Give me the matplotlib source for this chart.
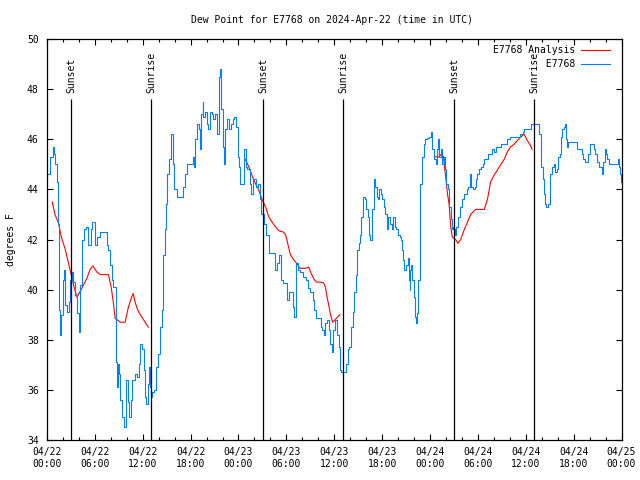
import numpy as np
import pandas as pd
import matplotlib
matplotlib.use('Agg')
import matplotlib.pyplot as plt
import matplotlib.dates as mdates

plt.rcParams['font.family'] = ['DejaVu Sans Mono']
plt.rcParams['font.size'] = 7

start = pd.Timestamp('2024-04-22 00:00')

# observed dew point (hours after start, degrees F)
obs_hours = [0.16, 0.4, 0.7, 0.85, 1.0, 1.2, 1.34, 1.4, 1.46, 1.5, 1.67, 1.75, 2.0, 2.15, 2.3, 2.5,
             2.7, 2.9, 3.1, 3.3, 3.55, 3.75, 3.97, 4.2, 4.4, 4.7, 4.95, 5.2, 5.5, 5.68, 6.05, 6.25,
             6.7, 7.3, 7.5, 7.7, 7.9, 8.1, 8.3, 8.6, 8.7, 8.8, 8.9, 9.0, 9.2, 9.4, 9.7, 9.95,
             10.1, 10.3, 10.5, 10.7, 11.0, 11.3, 11.5, 11.7, 11.9, 12.1, 12.3, 12.4, 12.6, 12.8,
             12.95, 13.0, 13.2, 13.45, 13.7, 13.95, 14.2, 14.4, 14.6, 14.75, 14.87, 15.1, 15.3, 15.5,
             15.6, 15.75, 15.9, 16.25, 16.9, 17.1, 17.35, 17.6, 17.9, 18.25, 18.4, 18.6, 18.75, 19.0,
             19.2, 19.35, 19.5, 19.6, 19.8, 20.0, 20.2, 20.4, 20.7, 20.85, 21.05, 21.3, 21.5, 21.6,
             21.72, 21.85, 22.0, 22.15, 22.3, 22.5, 22.75, 23.0, 23.3, 23.5, 23.7, 23.9, 24.05, 24.2,
             24.55, 24.75, 24.95, 25.1, 25.4, 25.55, 25.8, 26.0, 26.2, 26.5, 26.7, 26.8, 27.05, 27.2,
             27.4, 27.5, 27.8, 28.4, 28.6, 28.8, 29.1, 29.3, 29.55, 29.85, 30.06, 30.3, 30.6, 30.8,
             31.0, 31.15, 31.4, 31.7, 32.1, 32.4, 32.65, 33.0, 33.3, 33.5, 33.7, 34.15, 34.3, 34.45,
             34.66, 34.87, 35.1, 35.3, 35.5, 35.7, 35.9, 36.1, 36.3, 36.55, 36.7, 36.85, 37.4, 37.5,
             37.7, 37.9, 38.1, 38.3, 38.5, 38.7, 38.85, 39.05, 39.2, 39.35, 39.6, 39.8, 40.0, 40.2,
             40.4, 40.5, 40.7, 40.95, 41.1, 41.3, 41.45, 41.6, 41.8, 42.0, 42.2, 42.4, 42.55, 42.75,
             42.95, 43.2, 43.4, 43.6, 43.8, 44.0, 44.2, 44.4, 44.55, 44.6, 44.8, 45.05, 45.2, 45.35,
             45.45, 45.55, 45.65, 45.8, 46.0, 46.1, 46.3, 46.4, 46.55, 46.7, 46.8, 47.0, 47.2, 47.4,
             47.65, 47.85, 48.1, 48.2, 48.3, 48.5, 48.7, 48.85, 49.0, 49.1, 49.35, 49.5, 49.7, 49.85,
             50.0, 50.25, 50.4, 50.6, 50.7, 50.9, 51.0, 51.15, 51.3, 51.5, 51.8, 52.0, 52.3, 52.6,
             52.8, 53.0, 53.1, 53.2, 53.45, 53.6, 53.8, 53.95, 54.2, 54.4, 54.6, 54.8, 55.0, 55.3,
             55.6, 55.8, 56.0, 56.3, 56.6, 56.9, 57.2, 57.5, 57.7, 58.0, 58.65, 58.95, 59.3, 59.6,
             59.8, 60.15, 60.4, 60.6, 61.4, 61.6, 61.7, 61.85, 61.95, 62.1, 62.25, 62.4, 62.6, 62.85,
             63.0, 63.1, 63.25, 63.5, 63.7, 63.9, 64.05, 64.3, 64.4, 64.55, 64.75, 64.9, 65.0, 65.2,
             65.35, 65.95, 66.2, 66.4, 66.9, 67.0, 67.2, 67.45, 67.65, 67.8, 68.0, 68.3, 68.5, 68.7,
             68.95, 69.2, 69.5, 69.6, 69.7, 69.9, 70.0, 70.2, 70.4, 71.5, 71.6, 71.7, 71.85, 71.95]
obs_vals = [44.6, 45.3, 45.7, 45.4, 45.0, 44.3, 43.5, 42.6, 41.2, 39.2, 38.2, 39.0, 40.4, 40.8, 39.4, 39.1,
            39.5, 40.4, 40.7, 40.3, 39.8, 39.05, 38.3, 40.2, 42.0, 42.4, 42.5, 41.8, 42.4, 42.7, 41.8, 42.1,
            42.3, 42.3, 41.8, 41.6, 41.0, 40.4, 40.1, 38.65, 37.1, 36.1, 37.05, 36.65, 35.6, 34.9, 34.5, 36.4,
            35.5, 34.9, 35.6, 36.4, 36.65, 36.5, 37.05, 37.85, 37.65, 36.8, 35.7, 35.45, 36.25, 36.9,
            36.1, 35.7, 35.9, 36.0, 36.9, 37.45, 38.5, 39.2, 41.4, 42.4, 43.4, 44.6, 45.2, 46.0,
            46.2, 45.0, 44.0, 43.7, 43.7, 44.1, 44.6, 45.0, 45.0, 45.3, 44.9, 46.0, 46.6, 46.4,
            45.6, 47.0, 47.5, 46.9, 47.1, 46.6, 46.4, 47.1, 47.0, 46.8, 47.0, 46.2, 47.2, 48.5,
            48.8, 47.2, 45.7, 45.0, 46.4, 46.8, 46.4, 46.6, 46.8, 46.9, 46.5, 45.3, 44.9, 44.2,
            44.2, 45.6, 44.9, 44.8, 44.2, 43.8, 44.4, 44.4, 44.1, 44.2, 43.6, 43.0, 43.0, 42.6,
            42.4, 42.2, 41.45, 41.45, 40.8, 41.05, 41.4, 40.4, 40.25, 40.25, 39.6, 39.9, 39.9, 39.3,
            38.9, 41.05, 40.8, 40.7, 40.5, 40.4, 40.05, 39.9, 39.6, 39.2, 38.85, 38.85, 38.5, 38.4,
            38.2, 38.65, 38.8, 38.4, 37.85, 37.5, 38.4, 38.8, 38.2, 37.7, 36.8, 36.7, 36.7, 37.05,
            37.65, 37.7, 38.5, 39.1, 39.9, 40.6, 41.6, 41.85, 42.2, 42.9, 43.7, 43.6, 43.2, 42.9,
            42.2, 42.0, 43.2, 44.4, 44.1, 43.7, 43.6, 44.0, 43.8, 43.6, 43.3, 43.0, 42.4, 42.9,
            42.6, 42.4, 42.9, 42.5, 42.4, 42.2, 42.1, 42.0, 41.6, 41.2, 40.8, 41.0, 41.25, 40.4,
            40.0, 40.8, 41.0, 40.4, 39.7, 38.9, 38.65, 39.05, 40.4, 42.1, 44.2, 45.3, 45.8, 46.0,
            46.05, 46.1, 46.3, 46.2, 45.6, 45.2, 45.0, 45.6, 46.0, 45.3, 45.6, 45.0, 45.3, 44.8,
            44.2, 44.0, 43.3, 42.8, 42.4, 42.5, 42.4, 42.2, 42.5, 42.9, 43.3, 43.6, 43.8, 44.0,
            44.1, 44.6, 44.5, 44.1, 44.0, 44.1, 44.4, 44.6, 44.8, 44.9, 45.0, 45.2, 45.2, 45.4,
            45.4, 45.6, 45.5, 45.7, 45.7, 45.8, 45.8, 45.8, 46.0, 46.1, 46.1, 46.1, 46.2, 46.3,
            46.4, 46.4, 46.4, 46.6, 46.6, 46.5, 46.2, 45.6, 44.9, 44.4, 43.8, 43.4, 43.3, 43.4,
            44.2, 44.6, 44.9, 45.0, 44.7, 44.8, 45.3, 45.4, 46.1, 46.4, 46.5, 46.6, 46.0, 45.7,
            45.9, 45.9, 45.9, 45.6, 45.6, 45.4, 45.2, 45.1, 45.1, 45.4, 45.8, 45.8, 45.6, 45.4,
            45.1, 44.9, 44.8, 44.6, 45.1, 45.6, 45.4, 45.2, 45.0, 45.0, 45.2, 44.9, 44.6, 44.3]

# analysis, one run per day
anal1_hours = [0.66, 1.0, 1.45, 1.8, 2.3, 2.7, 3.0, 3.4, 3.75, 4.2, 4.6, 5.0, 5.4, 5.75, 6.25, 6.7,
               7.7, 8.05, 8.35, 8.55, 8.8, 9.2, 9.8, 10.2, 10.5, 10.8, 11.05, 11.35, 11.7, 12.1, 12.7]
anal1_vals = [43.5, 43.0, 42.65, 42.1, 41.6, 41.05, 40.65, 40.1, 39.7, 39.95, 40.2, 40.45, 40.8, 40.95, 40.7, 40.6,
              40.6, 40.1, 39.4, 38.85, 38.8, 38.7, 38.7, 39.3, 39.6, 39.85, 39.5, 39.2, 39.0, 38.8, 38.5]
anal2_hours = [24.85, 25.3, 25.7, 26.1, 26.5, 26.95, 27.4, 27.8, 28.2, 28.65, 29.05, 29.6, 29.9, 30.2,
               30.5, 30.9, 31.3, 31.7, 32.35, 32.8, 33.1, 33.5, 33.8, 34.24, 34.66, 34.9, 35.1, 35.3,
               35.5, 35.8, 36.1, 36.7]
anal2_vals = [45.2, 44.9, 44.55, 44.25, 44.0, 43.6, 43.3, 42.9, 42.7, 42.5, 42.35, 42.3, 42.2, 41.8,
              41.4, 41.2, 41.05, 40.85, 40.85, 40.9, 40.65, 40.4, 40.3, 40.3, 40.27, 40.1, 39.7, 39.4,
              39.05, 38.7, 38.8, 39.0]
anal3_hours = [48.7, 49.1, 49.4, 49.7, 49.85, 50.0, 50.2, 50.4, 50.6, 50.8, 51.2, 51.5, 51.85, 52.3,
               52.7, 53.1, 53.7, 54.8, 55.2, 55.6, 56.0, 56.5, 56.9, 57.3, 57.7, 58.1, 58.55, 58.95,
               59.4, 59.8, 60.2, 60.6, 60.8]
anal3_vals = [45.3, 45.3, 45.4, 45.3, 44.8, 44.4, 43.8, 43.4, 42.5, 42.1, 42.0, 41.85, 42.0, 42.4,
              42.7, 43.0, 43.2, 43.2, 43.6, 44.3, 44.55, 44.8, 45.0, 45.2, 45.5, 45.7, 45.8, 45.95,
              46.1, 46.2, 45.95, 45.75, 45.6]

sun_hours = [3.05, 13.07, 27.1, 37.1, 51.0, 61.05]
sun_labels = ['Sunset', 'Sunrise', 'Sunset', 'Sunrise', 'Sunset', 'Sunrise']


def to_time(hours):
    return start + pd.to_timedelta(np.array(hours), unit='h')


fig = plt.figure(figsize=(6.4, 4.8), dpi=100)
ax = fig.add_axes([0.0734, 0.0833, 0.8977, 0.8354])

red = '#ff0000'
blue = '#0080ff'
runs = [(anal1_hours, anal1_vals), (anal2_hours, anal2_vals), (anal3_hours, anal3_vals)]
for k, (hh, vv) in enumerate(runs):
    ax.plot(to_time(hh), vv, color=red, lw=0.8, label='E7768 Analysis' if k == 0 else None)
ax.plot(to_time(obs_hours), obs_vals, color=blue, lw=0.8, drawstyle='steps-post',
        label='         E7768')

ax.vlines(to_time(sun_hours), 34, 47.6, color='black', lw=0.9)
for t, lab in zip(to_time(sun_hours), sun_labels):
    ax.text(t, 47.85, lab, rotation=90, ha='center', va='bottom')

ax.set_xlim(start, start + pd.Timedelta(hours=72))
ax.set_ylim(34, 50)
ax.set_yticks(np.arange(34, 51, 2))
ax.xaxis.set_major_locator(mdates.HourLocator(byhour=[0, 6, 12, 18]))
ax.xaxis.set_minor_locator(mdates.HourLocator(interval=2))
ax.xaxis.set_major_formatter(mdates.DateFormatter('%m/%d\n%H:%M'))
ax.tick_params(which='both', direction='in', top=True, right=True, width=0.8)
ax.tick_params(which='major', length=4)
ax.tick_params(which='minor', length=2)
ax.tick_params(axis='x', pad=5)
ax.tick_params(axis='y', pad=6)
for s in ax.spines.values():
    s.set_linewidth(0.9)

fig.text(0.519, 0.958, 'Dew Point for E7768 on 2024-Apr-22 (time in UTC)', ha='center', va='center')
fig.text(0.017, 0.5, 'degrees F', rotation=90, ha='center', va='center')

ax.legend(loc='upper right', bbox_to_anchor=(0.98, 0.985), frameon=False, markerfirst=False,
          handlelength=3.0, labelspacing=0.45, borderaxespad=0, handletextpad=0.6, borderpad=0)

fig.savefig('out.png', dpi=100)
